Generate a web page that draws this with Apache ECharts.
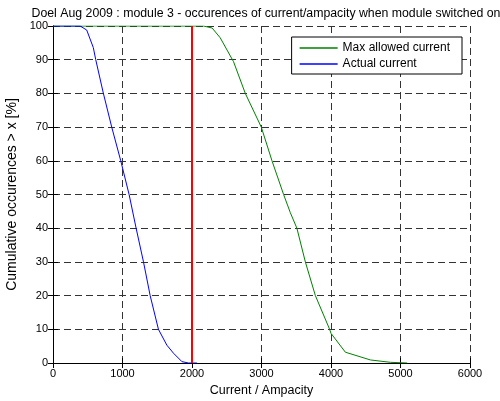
<!DOCTYPE html>
<html>
<head>
<meta charset="utf-8">
<script src="https://cdn.jsdelivr.net/npm/echarts@6/dist/echarts.min.js"></script>
<style>
  html, body { margin: 0; padding: 0; background: #fff; }
  #chart { width: 500px; height: 401px; }
</style>
</head>
<body>
<div id="chart"></div>
<script>
const titleText = 'Doel Aug 2009 : module 3 - occurences of current/ampacity when module switched on';
const seriesNames = ['Max allowed current', 'Actual current'];

// [current, cumulative %]
const maxAllowed = [
  [0, 100], [2166, 100], [2290, 99.4], [2406, 96.5], [2598, 89.4], [2767, 80],
  [2997, 70], [3151, 60], [3318, 50], [3415, 44.6], [3509, 40], [3631, 30],
  [3775, 20], [3980, 10], [4000, 8.8], [4207, 3.2], [4568, 0.9], [4856, 0.2], [5096, 0]
];
const actual = [
  [0, 100], [390, 100], [485, 98.8], [580, 93.6], [615, 90], [725, 80],
  [845, 70], [975, 60], [1095, 50], [1196, 40], [1302, 30], [1398, 20],
  [1517, 10], [1638, 5.3], [1734, 2.9], [1855, 0.4], [1950, 0], [2070, 0]
];
const limitLine = [[2000, 0], [2000, 100]];

const chart = echarts.init(document.getElementById('chart'));

const gridDash = { type: [7, 4], color: '#333', width: 1 };
const font = 'Liberation Sans, Arial, sans-serif';
const plain = v => String(v);

const option = {
  animation: false,
  textStyle: { fontFamily: font },
  title: {
    text: titleText,
    left: 261,
    textAlign: 'center',
    top: 3,
    textStyle: { fontSize: 12.3, fontWeight: 'normal', color: '#000', fontFamily: font }
  },
  grid: { left: 53, right: 30, top: 26, bottom: 38, outerBoundsMode: 'none', containLabel: false },
  legend: {
    data: seriesNames,
    orient: 'vertical',
    right: 38,
    top: 37,
    width: 168,
    padding: [5, 12, 4, 8],
    itemGap: 4,
    itemWidth: 38,
    itemHeight: 1.5,
    icon: 'rect',
    borderColor: '#000',
    borderWidth: 1,
    borderRadius: 0,
    backgroundColor: '#fff',
    textStyle: { fontSize: 12, color: '#000', fontFamily: font }
  },
  xAxis: [{
    type: 'value', min: 0, max: 6000, interval: 1000,
    name: 'Current / Ampacity', nameLocation: 'middle', nameGap: 21,
    nameTextStyle: { fontSize: 12.5, color: '#000' },
    axisLine: { lineStyle: { color: '#000' } },
    axisTick: { inside: true, length: 5, lineStyle: { color: '#000' } },
    axisLabel: { fontSize: 11, color: '#000', margin: 5, formatter: plain },
    splitLine: { show: true, lineStyle: gridDash }
  }, {
    type: 'value', min: 0, max: 6000, interval: 1000, position: 'top',
    axisLine: { show: true, lineStyle: { color: '#000' } },
    axisTick: { show: true, inside: true, length: 5, lineStyle: { color: '#000' } },
    axisLabel: { show: false },
    splitLine: { show: false }
  }],
  yAxis: [{
    type: 'value', min: 0, max: 100, interval: 10,
    name: 'Cumulative occurences > x [%]', nameLocation: 'middle', nameGap: 31,
    nameTextStyle: { fontSize: 14, color: '#000' },
    axisLine: { show: true, lineStyle: { color: '#000' } },
    axisTick: { show: true, inside: true, length: 5, lineStyle: { color: '#000' } },
    axisLabel: { fontSize: 11, color: '#000', margin: 5, formatter: plain },
    splitLine: { show: true, lineStyle: gridDash }
  }, {
    type: 'value', min: 0, max: 100, interval: 10, position: 'right',
    axisLine: { show: true, lineStyle: { color: '#000' } },
    axisTick: { show: true, inside: true, length: 5, lineStyle: { color: '#000' } },
    axisLabel: { show: false },
    splitLine: { show: false }
  }],
  series: [{
    name: seriesNames[0], type: 'line', data: maxAllowed, showSymbol: false, symbol: 'none',
    lineStyle: { color: '#008000', width: 1 }, itemStyle: { color: '#008000' }
  }, {
    name: seriesNames[1], type: 'line', data: actual, showSymbol: false, symbol: 'none',
    lineStyle: { color: '#0000ff', width: 1 }, itemStyle: { color: '#0000ff' }
  }, {
    name: 'limit', type: 'line', data: limitLine, showSymbol: false, symbol: 'none',
    lineStyle: { color: '#ff0000', width: 2 }, itemStyle: { color: '#ff0000' }, z: 3
  }]
};

chart.setOption(option);
</script>
</body>
</html>
